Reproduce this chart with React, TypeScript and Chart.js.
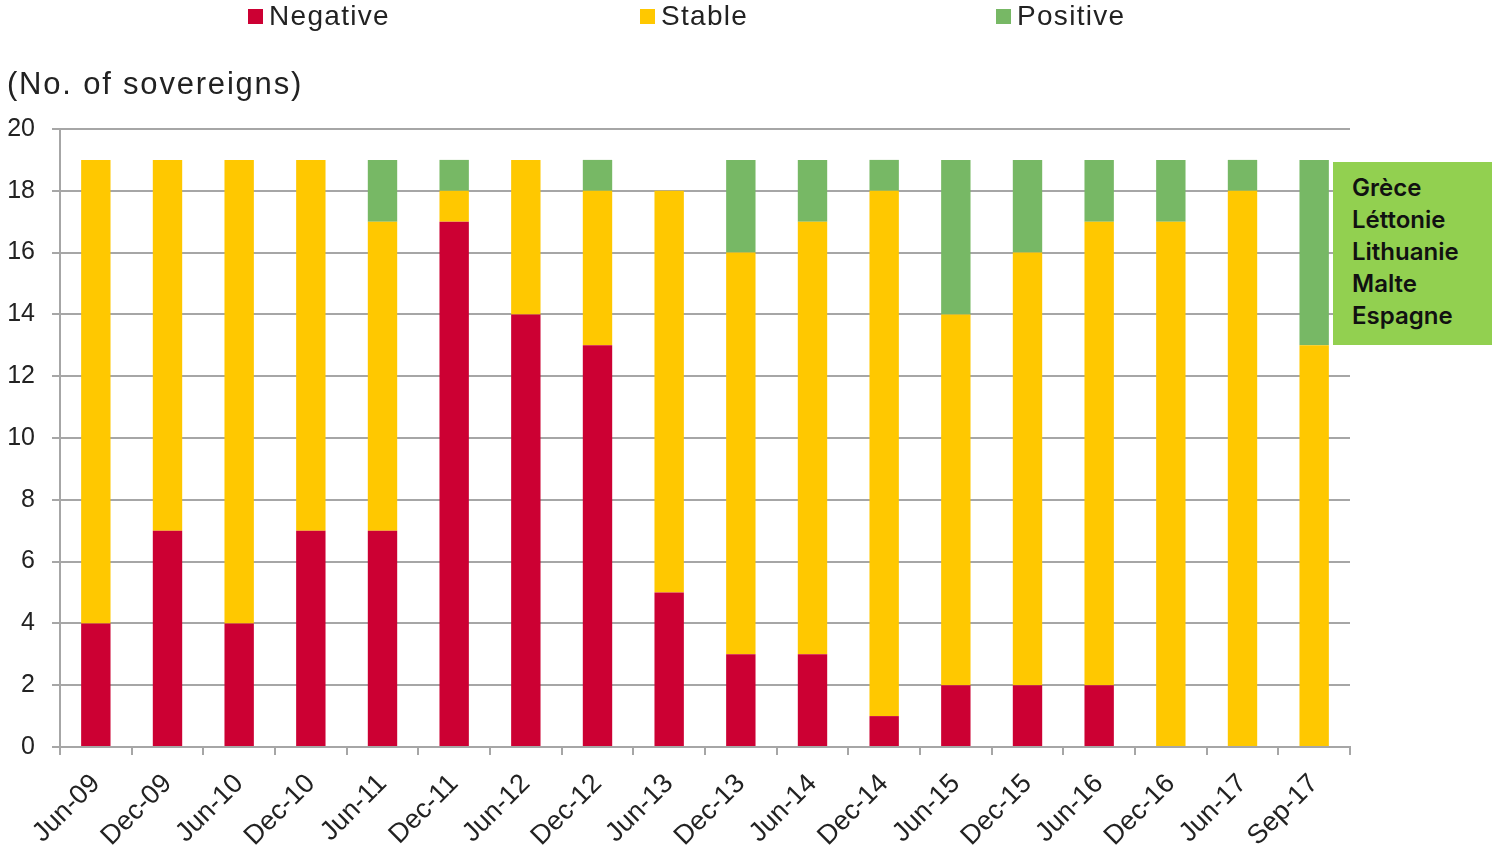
import React, { useEffect, useRef } from "react";
import { Chart, registerables } from "chart.js";

Chart.register(...registerables);

const categories = ["Jun-09", "Dec-09", "Jun-10", "Dec-10", "Jun-11", "Dec-11", "Jun-12", "Dec-12", "Jun-13", "Dec-13", "Jun-14", "Dec-14", "Jun-15", "Dec-15", "Jun-16", "Dec-16", "Jun-17", "Sep-17"];
const negative = [4, 7, 4, 7, 7, 17, 14, 13, 5, 3, 3, 1, 2, 2, 2, 0, 0, 0];
const stable = [15, 12, 15, 12, 10, 1, 5, 5, 13, 13, 14, 17, 12, 14, 15, 17, 18, 13];
const positive = [0, 0, 0, 0, 2, 1, 0, 1, 0, 3, 2, 1, 5, 3, 2, 2, 1, 6];
const seriesNames = ["Negative", "Stable", "Positive"];
const seriesColors = ["#CC0033", "#FFC800", "#77B865"];
const boxCountries = ["Grèce", "Léttonie", "Lithuanie", "Malte", "Espagne"];
const yAxisTitle = "(No. of sovereigns)";

const GRID = "#A6A6A6";
const TEXT = "#222";
const FONT = "'Liberation Sans', Arial, sans-serif";

export default function App() {
  const ref = useRef<HTMLCanvasElement | null>(null);
  useEffect(() => {
    if (!ref.current) return;
    const chart = new Chart(ref.current, {
      type: "bar",
      data: {
        labels: categories,
        datasets: [negative, stable, positive].map((d, i) => ({
          label: seriesNames[i],
          data: d,
          backgroundColor: seriesColors[i],
          borderWidth: 0,
          barPercentage: 0.41,
          categoryPercentage: 1,
        })),
      },
      options: {
        animation: false,
        responsive: true,
        maintainAspectRatio: false,
        layout: { padding: { left: 0, right: 142, top: 129, bottom: 0 } },
        plugins: { legend: { display: false }, tooltip: { enabled: false } },
        scales: {
          x: {
            stacked: true,
            offset: true,
            afterFit: (s: any) => { s.height = 106; },
            grid: { display: true, drawOnChartArea: false, drawTicks: true, tickLength: 8, offset: true, color: GRID, lineWidth: 2 },
            border: { display: true, color: GRID, width: 2 },
            ticks: { maxRotation: 45, minRotation: 45, autoSkip: false, padding: 13, color: TEXT, font: { family: FONT, size: 27 } },
          },
          y: {
            stacked: true,
            min: 0,
            max: 20,
            afterFit: (s: any) => { s.width = 60; },
            grid: { color: GRID, lineWidth: 2, tickLength: 8, drawTicks: true },
            border: { display: true, color: GRID, width: 2 },
            ticks: { stepSize: 2, padding: 17, color: TEXT, font: { family: FONT, size: 25 } },
          },
        },
      },
    });
    return () => chart.destroy();
  }, []);

  const legendPos = [248, 640, 996];
  return (
    <div style={{ position: "absolute", left: 0, top: 0, width: 1492, height: 853, background: "#fff", overflow: "hidden" }}>
      <canvas ref={ref} style={{ position: "absolute", left: 0, top: 0, width: 1492, height: 853 }} />
      {seriesNames.map((n, i) => (
        <div key={n} style={{ position: "absolute", left: legendPos[i], top: 0, height: 32, display: "flex", alignItems: "center", fontFamily: FONT, fontSize: 28, color: TEXT, letterSpacing: 1.3 }}>
          <span style={{ display: "inline-block", width: 15, height: 15, background: seriesColors[i], marginRight: 6 }} />
          {n}
        </div>
      ))}
      <div style={{ position: "absolute", left: 7, top: 66, fontFamily: FONT, fontSize: 31, color: TEXT, letterSpacing: 1.8, whiteSpace: "nowrap" }}>{yAxisTitle}</div>
      <div style={{ position: "absolute", left: 1333, top: 162, width: 159, height: 183, background: "#92D050", boxSizing: "border-box", paddingLeft: 19, paddingTop: 10, fontFamily: "Inter, Roboto, sans-serif", fontWeight: 600, fontSize: 24, lineHeight: "32px", color: "#111" }}>
        {boxCountries.map((c) => (<div key={c}>{c}</div>))}
      </div>
    </div>
  );
}
